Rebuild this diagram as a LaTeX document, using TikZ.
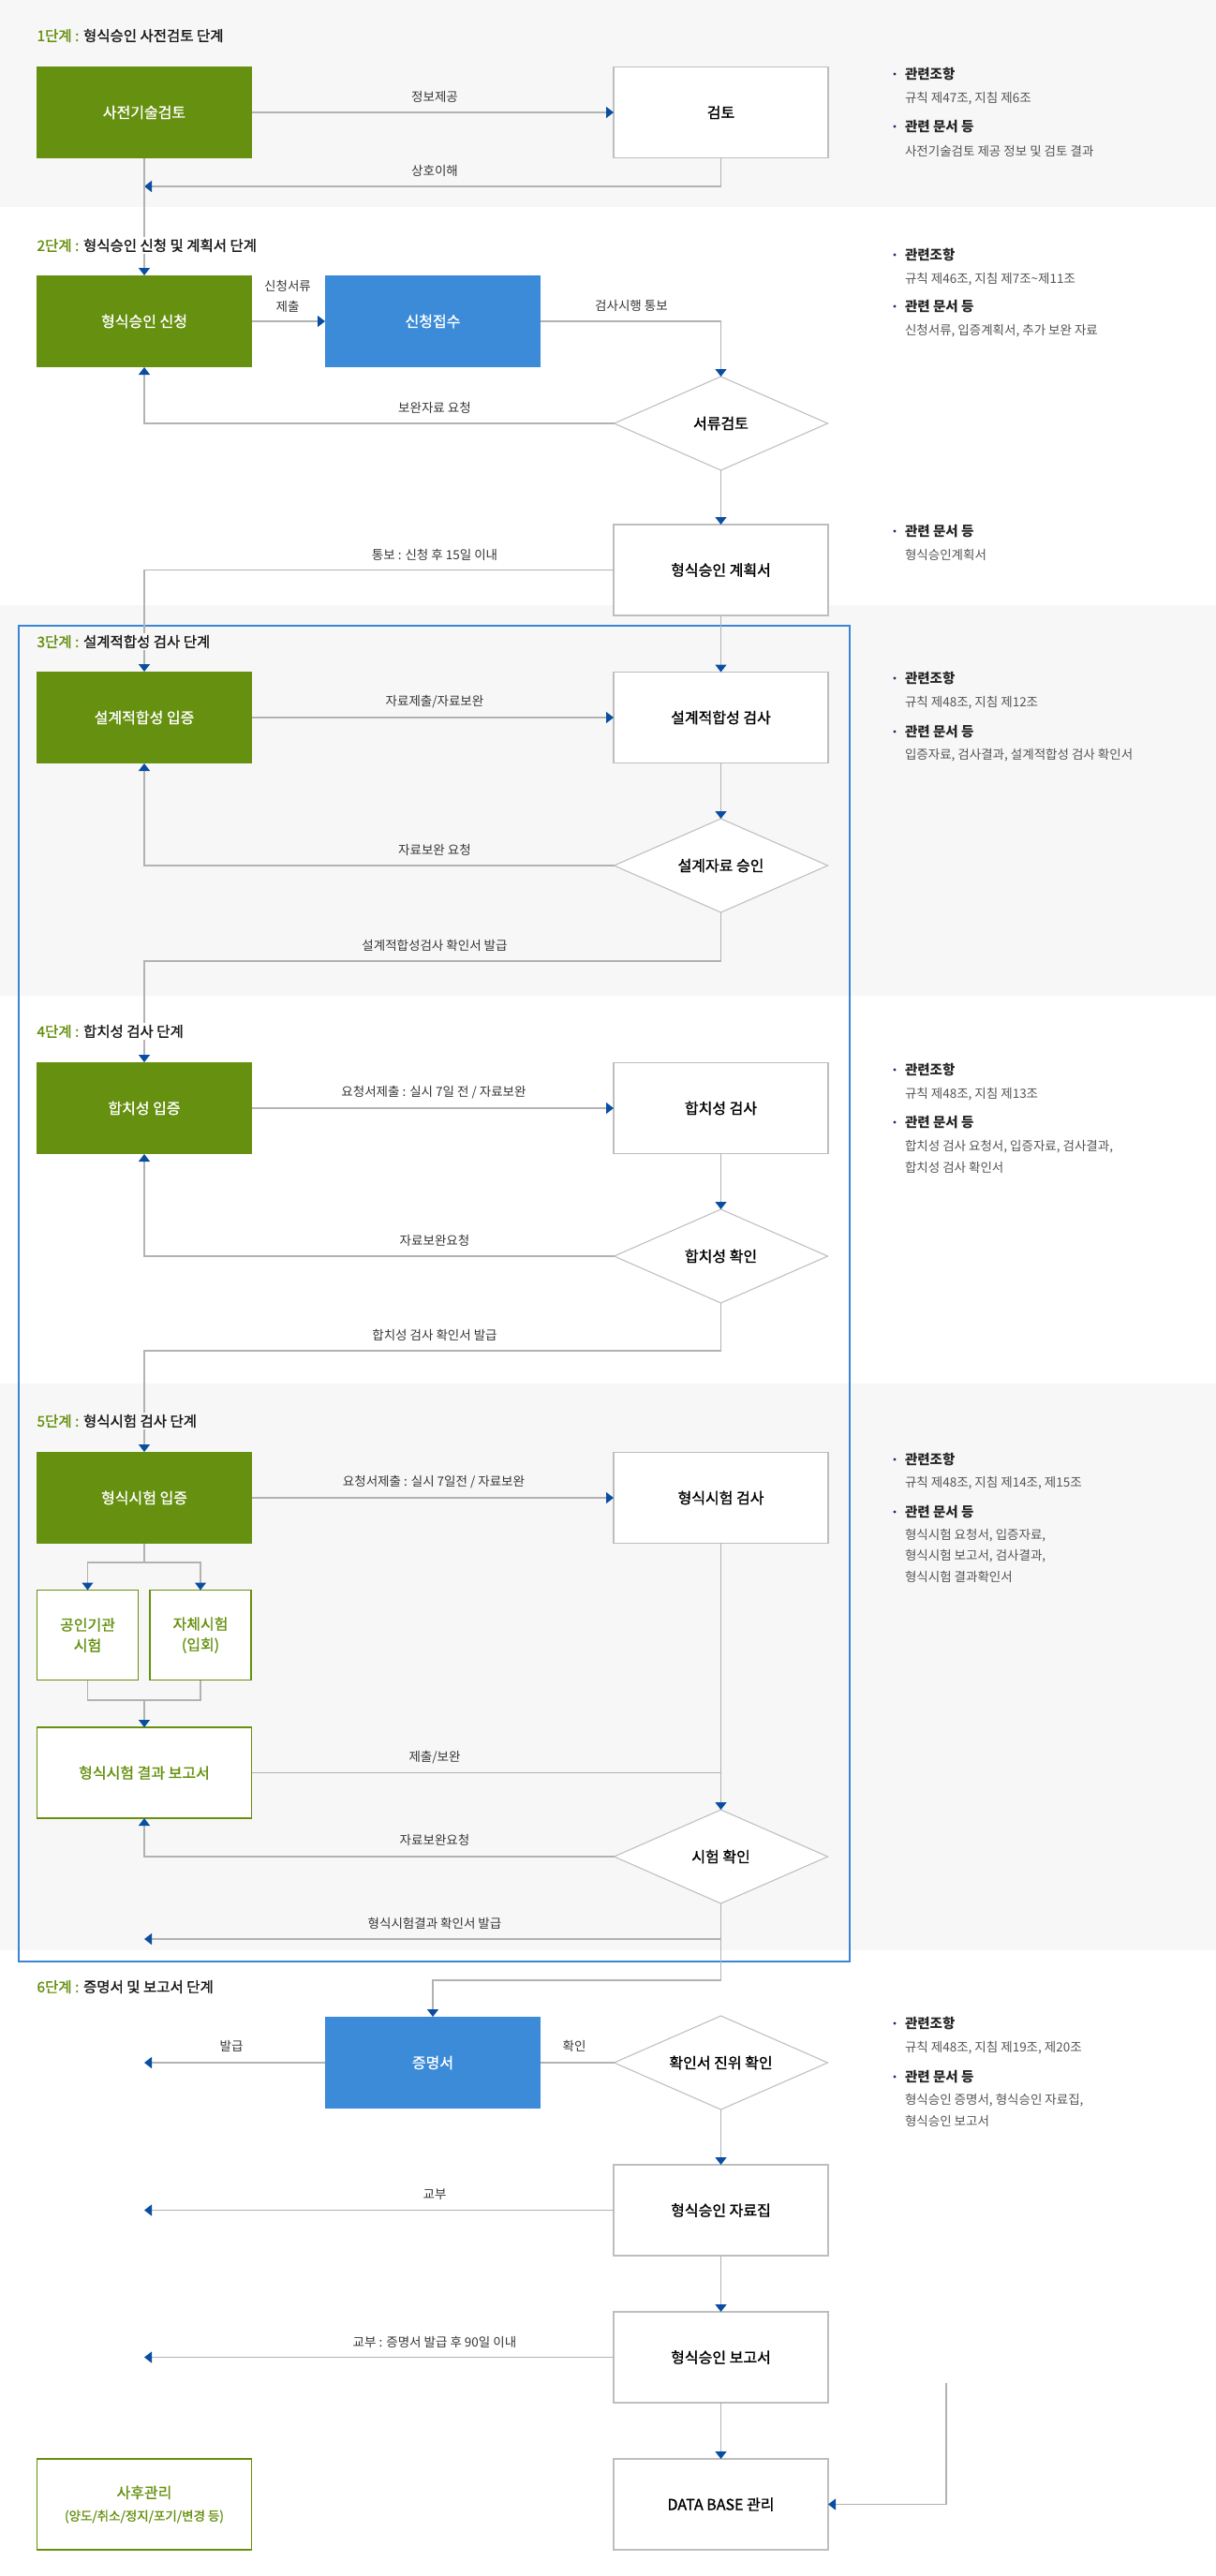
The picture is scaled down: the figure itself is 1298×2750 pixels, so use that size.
\documentclass[tikz,border=0pt]{standalone}
\usepackage{fontspec}
\setmainfont{Noto Sans CJK KR}
\newfontfamily\krmed[FakeBold=1.1]{Noto Sans CJK KR}
\usetikzlibrary{arrows.meta,shapes.geometric}
\definecolor{grn}{RGB}{102,144,15}
\definecolor{boxblue}{RGB}{59,139,216}
\definecolor{frameblue}{RGB}{58,134,212}
\definecolor{ablue}{RGB}{10,78,162}
\definecolor{lgray}{RGB}{178,178,178}
\definecolor{bgray}{RGB}{190,190,190}
\definecolor{dgray}{RGB}{192,192,192}
\definecolor{bandg}{RGB}{247,247,247}
\definecolor{ltxt}{RGB}{55,55,55}
\definecolor{itxt}{RGB}{85,85,85}
\definecolor{navy}{RGB}{30,40,90}
\newcommand\bxfont{\fontsize{16}{22}\selectfont\krmed}
\newcommand\lbfont{\fontsize{13.5}{22}\selectfont}
\newcommand\hdfont{\fontsize{14.5}{18}\selectfont\bfseries}
\newcommand\stgfont{\fontsize{15.5}{18}\selectfont\krmed}
\begin{document}
\begin{tikzpicture}[x=1pt,y=-1pt,
  every node/.style={inner sep=0pt,outer sep=0pt},
  gbox/.style={rectangle,fill=grn,text=white,font=\bxfont,minimum width=230pt,minimum height=98pt},
  bluebox/.style={rectangle,fill=boxblue,text=white,font=\bxfont,minimum width=230pt,minimum height=98pt},
  wbox/.style={rectangle,draw=bgray,line width=1.3pt,fill=white,text=black,font=\bxfont,minimum width=229pt,minimum height=97pt},
  obox/.style={rectangle,draw=grn,line width=1.3pt,fill=white,text=grn,font=\bxfont,minimum width=229pt,minimum height=97pt,align=center},
  dia/.style={diamond,aspect=2.28,draw=dgray,line width=1.1pt,fill=white,text=black,font=\bxfont,minimum width=228pt,minimum height=100pt},
  lbl/.style={font=\lbfont,text=ltxt},
  info/.style={font=\lbfont,text=itxt,anchor=west},
  ihead/.style={font=\hdfont,text=black!85,anchor=west},
  stage/.style={anchor=west,font=\stgfont,inner sep=1.5pt,text=black!90},
  conn/.style={draw=lgray,line width=1.3pt},
  arr/.style={conn,-{Triangle[length=8pt,width=12pt,color=ablue,fill=ablue]}}
]
\useasboundingbox (0,0) rectangle (1298,2750);
% bands
\fill[white] (0,0) rectangle (1298,2750);
\fill[bandg] (0,0) rectangle (1298,221);
\fill[bandg] (0,646) rectangle (1298,1063);
\fill[bandg] (0,1477) rectangle (1298,2082);
% frame
\draw[frameblue,line width=2.6pt] (20,668) rectangle (907,2094);

% nodes
\node[gbox] (s1) at (154,120) {사전기술검토};
\node[wbox] (g1) at (769.5,120) {검토};
\node[gbox] (a2) at (154,343) {형식승인 신청};
\node[bluebox] (r2) at (462,343) {신청접수};
\node[dia] (d2) at (769.5,452) {서류검토};
\node[wbox] (p2) at (769.5,608.5) {형식승인 계획서};
\node[gbox] (a3) at (154,766) {설계적합성 입증};
\node[wbox] (c3) at (769.5,766) {설계적합성 검사};
\node[dia] (d3) at (769.5,924) {설계자료 승인};
\node[gbox] (a4) at (154,1183) {합치성 입증};
\node[wbox] (c4) at (769.5,1183) {합치성 검사};
\node[dia] (d4) at (769.5,1341) {합치성 확인};
\node[gbox] (a5) at (154,1599) {형식시험 입증};
\node[wbox] (c5) at (769.5,1599) {형식시험 검사};
\node[obox,minimum width=108pt,minimum height=96pt] (t1) at (93.5,1745.5) {공인기관\\시험};
\node[obox,minimum width=108pt,minimum height=96pt] (t2) at (214,1745.5) {자체시험\\(입회)};
\node[obox] (rep) at (154,1892.5) {형식시험 결과 보고서};
\node[dia] (d5) at (769.5,1982) {시험 확인};
\node[bluebox] (cert) at (462,2202) {증명서};
\node[dia] (d6) at (769.5,2202) {확인서 진위 확인};
\node[wbox] (col) at (769.5,2359.5) {형식승인 자료집};
\node[wbox] (rpt) at (769.5,2516.5) {형식승인 보고서};
\node[wbox] (db) at (769.5,2673.5) {DATA BASE 관리};
\node[obox] (aft) at (154,2673.5) {사후관리\\[2pt]{\lbfont\mdseries (양도/취소/정지/포기/변경 등)}};

% coordinates
\coordinate (b1) at (154,199);
\coordinate (k3) at (769.5,1026);
\coordinate (k4) at (769.5,1442);
\coordinate (sp) at (154,1668);
\coordinate (mg) at (154,1815);
\coordinate (k5) at (769.5,2070);
\coordinate (k5l) at (154,2070);
\coordinate (k6) at (769.5,2114);
\coordinate (certl) at (154,2202);
\coordinate (coll) at (154,2359.5);
\coordinate (rptl) at (154,2516.5);
\coordinate (dbin) at (1010,2544);

% connectors
\draw[arr] (s1) -- (g1);
\draw[arr] (g1.south) |- (b1);
\draw[arr] (s1.south) -- (a2.north);
\draw[arr] (a2) -- (r2);
\draw[arr] (r2.east) -| (d2.north);
\draw[arr] (d2.west) -| (a2.south);
\draw[arr] (d2.south) -- (p2.north);
\draw[arr] (p2.west) -| (a3.north);
\draw[arr] (p2.south) -- (c3.north);
\draw[arr] (a3) -- (c3);
\draw[arr] (c3.south) -- (d3.north);
\draw[arr] (d3.west) -| (a3.south);
\draw[arr] (d3.south) -- (k3) -| (a4.north);
\draw[arr] (a4) -- (c4);
\draw[arr] (c4.south) -- (d4.north);
\draw[arr] (d4.west) -| (a4.south);
\draw[arr] (d4.south) -- (k4) -| (a5.north);
\draw[arr] (a5) -- (c5);
\draw[conn] (a5.south) -- (sp);
\draw[arr] (sp) -| (t1.north);
\draw[arr] (sp) -| (t2.north);
\draw[conn] (t1.south) |- (mg);
\draw[conn] (t2.south) |- (mg);
\draw[arr] (mg) -- (rep.north);
\draw[arr] (c5.south) -- (d5.north);
\draw[conn] (rep.east) -- (rep.east -| c5.south);
\draw[arr] (d5.west) -| (rep.south);
\draw[conn] (d5.south) -- (k6);
\draw[arr] (k5) -- (k5l);
\draw[arr] (k6) -| (cert.north);
\draw[arr] (cert.west) -- (certl);
\draw[conn] (d6.west) -- (cert.east);
\draw[arr] (d6.south) -- (col.north);
\draw[arr] (col.west) -- (coll);
\draw[arr] (col.south) -- (rpt.north);
\draw[arr] (rpt.west) -- (rptl);
\draw[arr] (rpt.south) -- (db.north);
\draw[arr] (dbin) |- (db.east);

% connector labels
\node[lbl] (l1) at (464,103) {정보제공};
\node[lbl] (l2) at (464,182) {상호이해};
\node[lbl,align=center] (l3) at (307,316) {신청서류\\제출};
\node[lbl] (l4) at (674,326) {검사시행 통보};
\node[lbl] (l5) at (464,435) {보완자료 요청};
\node[lbl] (l6) at (464,592) {통보 : 신청 후 15일 이내};
\node[lbl] (l7) at (464,749) {자료제출/자료보완};
\node[lbl] (l8) at (464,907) {자료보완 요청};
\node[lbl] (l9) at (464,1009) {설계적합성검사 확인서 발급};
\node[lbl] (l10) at (463,1166) {요청서제출 : 실시 7일 전 / 자료보완};
\node[lbl] (l11) at (464,1324) {자료보완요청};
\node[lbl] (l12) at (464,1425) {합치성 검사 확인서 발급};
\node[lbl] (l13) at (463,1582) {요청서제출 : 실시 7일전 / 자료보완};
\node[lbl] (l14) at (464,1876) {제출/보완};
\node[lbl] (l15) at (464,1964) {자료보완요청};
\node[lbl] (l16) at (464,2053) {형식시험결과 확인서 발급};
\node[lbl] (l17) at (247,2184) {발급};
\node[lbl] (l18) at (613,2184) {확인};
\node[lbl] (l19) at (464,2343) {교부};
\node[lbl] (l20) at (464,2500) {교부 : 증명서 발급 후 90일 이내};

% stage titles
\node[stage,fill=bandg] (h1) at (38,38) {\textcolor{grn}{1단계 :} 형식승인 사전검토 단계};
\node[stage,fill=white] (h2) at (38,262) {\textcolor{grn}{2단계 :} 형식승인 신청 및 계획서 단계};
\node[stage,fill=bandg] (h3) at (38,685) {\textcolor{grn}{3단계 :} 설계적합성 검사 단계};
\node[stage,fill=white] (h4) at (38,1101) {\textcolor{grn}{4단계 :} 합치성 검사 단계};
\node[stage,fill=bandg] (h5) at (38,1517) {\textcolor{grn}{5단계 :} 형식시험 검사 단계};
\node[stage,fill=white] (h6) at (38,2121) {\textcolor{grn}{6단계 :} 증명서 및 보고서 단계};

% info blocks
\foreach \yy in {79,135,272,327,567,724,781,1142,1198,1558,1614,2160,2217}
  \fill[navy] (955,\yy) circle (1.6pt);
\node[ihead] (i1a) at (966,79) {관련조항};
\node[info] (i1b) at (966,105) {규칙 제47조, 지침 제6조};
\node[ihead] (i1c) at (966,135) {관련 문서 등};
\node[info] (i1d) at (966,161) {사전기술검토 제공 정보 및 검토 결과};
\node[ihead] (i2a) at (966,272) {관련조항};
\node[info] (i2b) at (966,298) {규칙 제46조, 지침 제7조\textasciitilde 제11조};
\node[ihead] (i2c) at (966,327) {관련 문서 등};
\node[info] (i2d) at (966,353) {신청서류, 입증계획서, 추가 보완 자료};
\node[ihead] (ipa) at (966,567) {관련 문서 등};
\node[info] (ipb) at (966,592) {형식승인계획서};
\node[ihead] (i3a) at (966,724) {관련조항};
\node[info] (i3b) at (966,750) {규칙 제48조, 지침 제12조};
\node[ihead] (i3c) at (966,781) {관련 문서 등};
\node[info] (i3d) at (966,806) {입증자료, 검사결과, 설계적합성 검사 확인서};
\node[ihead] (i4a) at (966,1142) {관련조항};
\node[info] (i4b) at (966,1168) {규칙 제48조, 지침 제13조};
\node[ihead] (i4c) at (966,1198) {관련 문서 등};
\node[info] (i4d) at (966,1224) {합치성 검사 요청서, 입증자료, 검사결과,};
\node[info] (i4e) at (966,1246) {합치성 검사 확인서};
\node[ihead] (i5a) at (966,1558) {관련조항};
\node[info] (i5b) at (966,1583) {규칙 제48조, 지침 제14조, 제15조};
\node[ihead] (i5c) at (966,1614) {관련 문서 등};
\node[info] (i5d) at (966,1639) {형식시험 요청서, 입증자료,};
\node[info] (i5e) at (966,1661) {형식시험 보고서, 검사결과,};
\node[info] (i5f) at (966,1683) {형식시험 결과확인서};
\node[ihead] (i6a) at (966,2160) {관련조항};
\node[info] (i6b) at (966,2186) {규칙 제48조, 지침 제19조, 제20조};
\node[ihead] (i6c) at (966,2217) {관련 문서 등};
\node[info] (i6d) at (966,2242) {형식승인 증명서, 형식승인 자료집,};
\node[info] (i6e) at (966,2264) {형식승인 보고서};
\end{tikzpicture}
\end{document}
